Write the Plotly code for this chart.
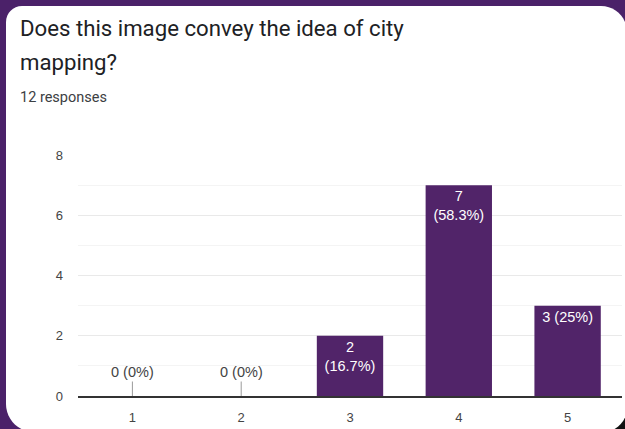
import plotly.graph_objects as go

# Survey results: rating scale 1-5, number of responses per rating
ratings = [1, 2, 3, 4, 5]
counts = [0, 0, 2, 7, 3]
# whether the bar label wraps onto two lines
wrap_label = [False, False, True, True, False]

question_line1 = "Does this image convey the idea of city"
question_line2 = "mapping?"
y_ticks = [0, 2, 4, 6, 8]

total = sum(counts)
W, H = 625, 429
ML, MR, MT, MB = 78, 3, 155, 33
PW, PH = W - ML - MR, H - MT - MB

FRAME = "#4b2169"
BAR = "#512469"


def pct_text(c):
    p = round(100 * c / total, 1)
    return f"{p:g}%"


def px(x):
    return (x - ML) / PW


def py(y):
    return (H - MB - y) / PH


def rounded_rect(x0, y0, x1, y1, rtl, rtr, rbr, rbl):
    k = 0.5523
    pts = []
    pts.append(f"M {px(x0 + rtl)},{py(y0)}")
    pts.append(f"L {px(x1 - rtr)},{py(y0)}")
    pts.append(f"C {px(x1 - rtr + k * rtr)},{py(y0)} {px(x1)},{py(y0 + rtr - k * rtr)} {px(x1)},{py(y0 + rtr)}")
    pts.append(f"L {px(x1)},{py(y1 - rbr)}")
    pts.append(f"C {px(x1)},{py(y1 - rbr + k * rbr)} {px(x1 - rbr + k * rbr)},{py(y1)} {px(x1 - rbr)},{py(y1)}")
    pts.append(f"L {px(x0 + rbl)},{py(y1)}")
    pts.append(f"C {px(x0 + rbl - k * rbl)},{py(y1)} {px(x0)},{py(y1 - rbl + k * rbl)} {px(x0)},{py(y1 - rbl)}")
    pts.append(f"L {px(x0)},{py(y0 + rtl)}")
    pts.append(f"C {px(x0)},{py(y0 + rtl - k * rtl)} {px(x0 + rtl - k * rtl)},{py(y0)} {px(x0 + rtl)},{py(y0)}")
    pts.append("Z")
    return " ".join(pts)


bar_text = []
for c, w in zip(counts, wrap_label):
    if c == 0:
        bar_text.append("")
    else:
        sep = "<br>" if w else " "
        bar_text.append(f"{c}{sep}({pct_text(c)})")

fig = go.Figure()
fig.add_trace(go.Bar(
    x=ratings,
    y=counts,
    width=0.61,
    marker=dict(color=BAR, line=dict(width=0)),
    text=bar_text,
    textposition="inside",
    insidetextanchor="end",
    textangle=0,
    textfont=dict(family="Liberation Sans, Arial", size=14.5, color="white"),
    constraintext="none",
    hoverinfo="skip",
))

# zero-count ratings get a label on a short leader line
annotations = []
for r, c in zip(ratings, counts):
    if c == 0:
        annotations.append(dict(
            x=r, y=0, xref="x", yref="y",
            text=f"{c} ({pct_text(c)})",
            showarrow=True, arrowhead=0, arrowwidth=1, arrowcolor="#9a9a9a",
            ax=0, ay=-24,
            font=dict(family="Liberation Sans, Arial", size=14.5, color="#444444"),
        ))

annotations += [
    dict(x=px(18), y=py(28), xref="paper", yref="paper", xanchor="left", yanchor="middle",
         text=question_line1, showarrow=False,
         font=dict(family="Roboto", size=22.2, color="#202124")),
    dict(x=px(18), y=py(62), xref="paper", yref="paper", xanchor="left", yanchor="middle",
         text=question_line2, showarrow=False,
         font=dict(family="Roboto", size=22.2, color="#202124")),
    dict(x=px(18), y=py(98), xref="paper", yref="paper", xanchor="left", yanchor="middle",
         text=f"{total} responses", showarrow=False,
         font=dict(family="Roboto", size=14.5, color="#3c4043")),
]

shapes = [
    # dark corner behind the card
    dict(type="rect", xref="paper", yref="paper", layer="below",
         x0=px(595), x1=px(630), y0=py(400), y1=py(435),
         fillcolor="#111111", line=dict(width=0)),
    # white card
    dict(type="path", xref="paper", yref="paper", layer="below",
         path=rounded_rect(6, 6, 627, 432, 16, 26, 24, 28),
         fillcolor="white", line=dict(width=0)),
]

fig.update_layout(
    width=W, height=H,
    margin=dict(l=ML, r=MR, t=MT, b=MB),
    paper_bgcolor=FRAME,
    plot_bgcolor="rgba(0,0,0,0)",
    showlegend=False,
    annotations=annotations,
    shapes=shapes,
    font=dict(family="Liberation Sans, Arial", color="#444444"),
)
fig.update_xaxes(
    range=[0.5, 5.5],
    tickvals=ratings,
    ticktext=[str(r) for r in ratings],
    showgrid=False,
    showline=True, linecolor="#333333", linewidth=2,
    ticks="", ticklabelstandoff=8,
    tickfont=dict(size=13, color="#444444"),
    zeroline=False,
)
fig.update_yaxes(
    range=[0, 8],
    tickvals=y_ticks,
    showgrid=True, gridcolor="#e9e9e9", gridwidth=1,
    minor=dict(dtick=1, showgrid=True, gridcolor="#f4f4f4", gridwidth=1),
    zeroline=False,
    ticks="", ticklabelstandoff=14,
    tickfont=dict(size=13, color="#444444"),
)

fig.write_html("out.html")
